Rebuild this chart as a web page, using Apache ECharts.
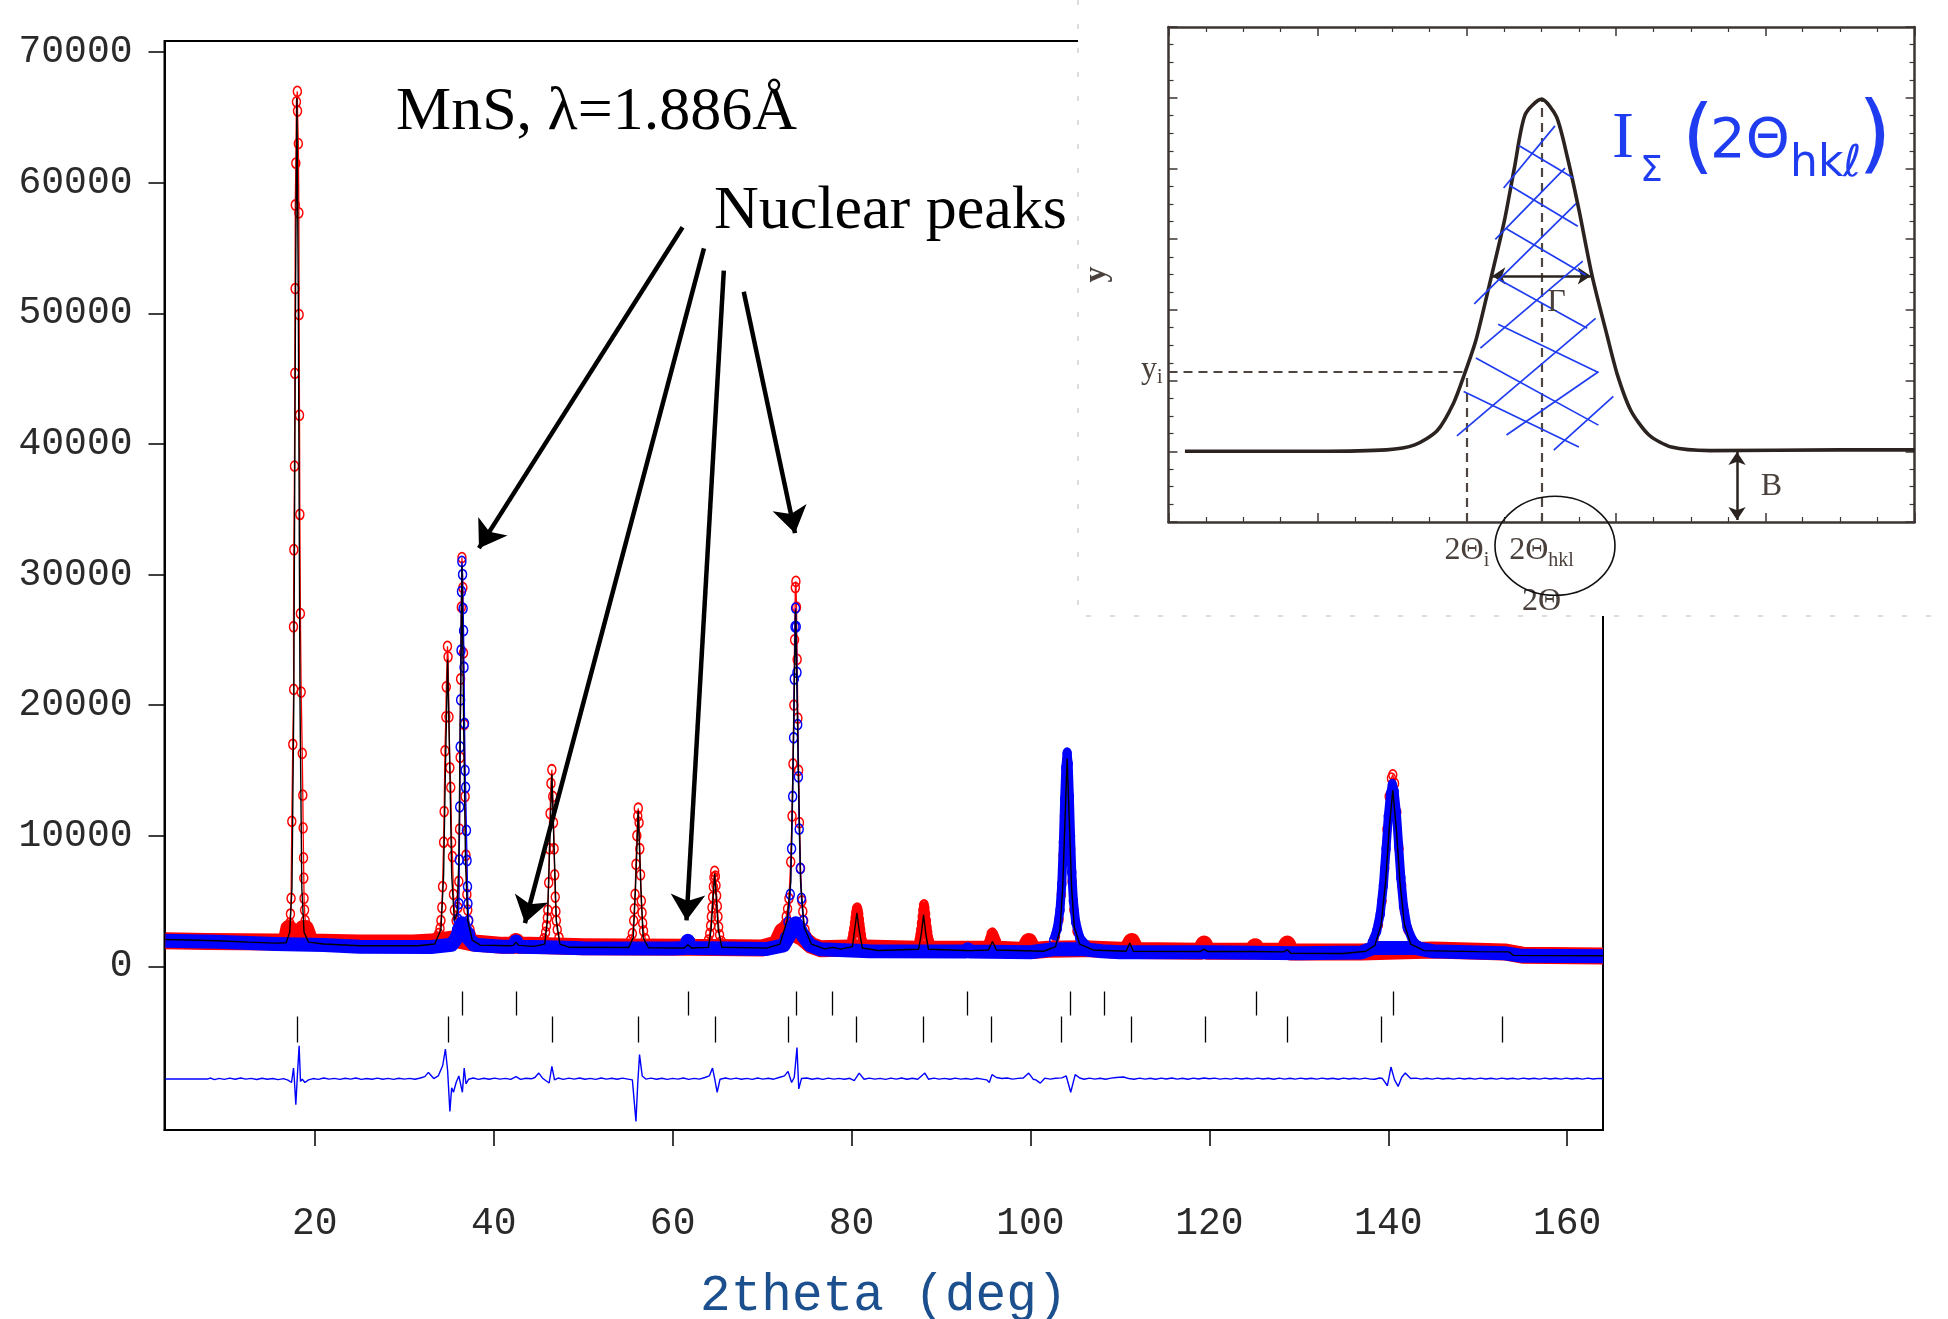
<!DOCTYPE html>
<html><head><meta charset="utf-8">
<script src="https://cdn.jsdelivr.net/npm/echarts/dist/echarts.min.js"></script>
<style>html,body{margin:0;padding:0;background:#fff}#c{width:1948px;height:1319px}</style>
</head><body><div id="c"></div>
<script>
// ---------------- data ----------------
const xTickValues = [20, 40, 60, 80, 100, 120, 140, 160];
const yTickValues = [0, 10000, 20000, 30000, 40000, 50000, 60000, 70000];

// calculated profile (black line)
const calcCurve = [[3.3,2050],[6,2010],[9,1950],[12.6,1850],[15.6,1775],[16.8,1800],[17.2,2600],[17.45,6000],[17.65,20000],[17.85,52000],[18.0,66500],[18.15,52000],[18.35,20000],[18.55,6000],[18.8,2600],[19.3,1850],[21,1700],[25,1570],[31.5,1570],[33.4,1700],[34.1,2800],[34.4,7000],[34.6,15000],[34.85,23500],[35.1,15000],[35.3,7000],[35.6,3500],[35.9,4000],[36.1,8000],[36.25,18000],[36.45,30700],[36.65,18000],[36.85,8000],[37.1,3500],[37.6,2000],[38.5,1620],[41.7,1570],[42.2,1600],[42.5,1850],[42.8,1600],[44.5,1520],[45.7,1700],[46.0,3500],[46.25,9000],[46.5,14700],[46.75,9000],[47.0,3500],[47.4,1700],[48.5,1450],[55.1,1440],[55.6,2200],[55.85,6000],[56.15,11900],[56.45,6000],[56.7,2200],[57.3,1420],[61.3,1400],[61.7,1650],[62.1,1400],[64.0,1450],[64.3,2800],[64.5,5000],[64.7,7100],[64.9,5000],[65.1,2800],[65.5,1450],[70.5,1390],[72.0,1700],[72.8,3500],[73.2,6500],[73.45,15000],[73.75,27300],[74.05,15000],[74.3,6500],[74.7,3000],[75.5,1700],[77.0,1330],[77.9,1450],[78.8,1315],[80.1,1500],[80.35,2800],[80.6,4100],[80.85,2800],[81.2,1400],[83,1210],[87.5,1300],[87.8,2500],[88.05,3940],[88.3,2500],[88.6,1300],[92.8,1210],[93.0,1300],[93.2,1200],[95.3,1250],[95.75,1900],[96.2,1250],[101.5,1150],[102.8,1500],[103.3,2800],[103.6,6000],[103.85,11000],[104.1,15900],[104.35,11000],[104.6,6000],[104.9,3000],[105.5,1700],[107,1250],[110.7,1150],[111.1,1780],[111.5,1150],[119.0,1135],[119.4,1315],[119.8,1135],[125,1135],[128.3,1100],[128.7,1263],[129.1,1000],[135,980],[137.5,1150],[138.5,1600],[139.2,3200],[139.7,6500],[140.1,10500],[140.5,13500],[140.9,10500],[141.3,6500],[141.8,3200],[142.5,1700],[144,1200],[150,1120],[153.5,1100],[154,830],[164,800]];

// observed data, set 1 (red): background band and peak points
const redBand = [[3.3,1950],[8,1900],[15.6,1850],[16.8,1900],[17.1,2900],[17.3,2900],[17.5,2300],[18.5,2300],[18.7,2900],[18.95,2900],[19.5,1850],[25,1780],[31,1780],[33,1850],[35.5,2100],[37.5,1800],[41,1600],[42.2,1600],[42.5,1900],[42.8,1600],[44,1600],[50,1500],[55,1480],[61.4,1450],[61.7,1750],[62.0,1450],[70,1400],[71.6,1700],[72.3,2700],[72.8,2900],[73.3,2600],[74.5,2200],[75.5,1600],[76.5,1350],[79.8,1400],[81.5,1400],[87.4,1300],[88.9,1300],[93,1300],[95.2,1300],[96.4,1300],[99.3,1200],[99.8,1900],[100.3,1200],[102,1300],[106,1350],[110.8,1200],[111.3,1900],[111.8,1200],[119,1150],[119.4,1700],[119.8,1150],[124.8,1150],[125.1,1500],[125.4,1150],[128.3,1150],[128.7,1700],[129.1,1100],[137,1100],[145,1250],[153,1100],[155,850],[164,780]];

const redPeaks = [
 [[16.9,2300],[17.1,2700],[17.2,3300],[17.28,4000],[17.35,5200],[17.43,11100],[17.54,17000],[17.64,21200],[17.62,26000],[17.66,31900],[17.73,38300],[17.77,45400],[17.8,51900],[17.82,58300],[17.88,61500],[17.95,66200],[18.05,67000],[18.07,65500],[18.16,63000],[18.22,57700],[18.25,49900],[18.29,42200],[18.33,34600],[18.39,27000],[18.48,21000],[18.6,16300],[18.66,13100],[18.7,10600],[18.74,8300],[18.77,6750],[18.8,5200],[18.86,4300],[18.93,3500],[19.0,2800],[19.2,2300]],
 [[33.6,2200],[33.85,2500],[34.0,2900],[34.1,3500],[34.2,4500],[34.28,6100],[34.4,9500],[34.46,11850],[34.55,16500],[34.65,19100],[34.7,21400],[34.83,24500],[34.9,23700],[35.0,19100],[35.1,15200],[35.2,13700],[35.3,9500],[35.39,8400],[35.5,5500],[35.6,4300],[35.8,3500],[36.0,4500],[36.1,6500],[36.18,10500],[36.25,16000],[36.3,22000],[36.38,27500],[36.45,31300],[36.55,29000],[36.62,24000],[36.7,18500],[36.8,13000],[36.9,8500],[37.0,5500],[37.1,4300],[37.2,3500],[37.35,2800],[37.5,2400]],
 [[45.6,2100],[45.8,2600],[45.9,3100],[46.0,3700],[46.05,4300],[46.15,6400],[46.22,9000],[46.3,11700],[46.4,14000],[46.5,15050],[46.6,13000],[46.68,11000],[46.75,9000],[46.82,7000],[46.88,5300],[46.95,4200],[47.0,3500],[47.1,2800],[47.3,2200]],
 [[55.3,2000],[55.5,2500],[55.65,3500],[55.72,4400],[55.8,5500],[55.9,7800],[56.0,10000],[56.1,11500],[56.16,12100],[56.25,11000],[56.33,9000],[56.42,7000],[56.5,5000],[56.58,4100],[56.65,3300],[56.75,2700],[56.95,2100]],
 [[64.0,2000],[64.15,2500],[64.25,3100],[64.33,3800],[64.4,4500],[64.47,5300],[64.55,6100],[64.62,6800],[64.7,7260],[64.78,6900],[64.85,6200],[64.92,5400],[65.0,4600],[65.07,3800],[65.15,3000],[65.25,2400],[65.45,1900]],
 [[72.3,2600],[72.55,3200],[72.7,3800],[72.85,4400],[73.0,5200],[73.2,8000],[73.35,11500],[73.45,15500],[73.55,20000],[73.63,25000],[73.72,29000],[73.78,29470],[73.85,27500],[73.92,23500],[74.0,19000],[74.08,15000],[74.18,11000],[74.3,7500],[74.45,5000],[74.55,4200],[74.65,3500],[74.8,2800],[75.0,2300]],
 [[79.9,1700],[80.05,2100],[80.15,2500],[80.25,2900],[80.33,3300],[80.4,3700],[80.47,4100],[80.55,4400],[80.65,4450],[80.72,4300],[80.8,4000],[80.87,3600],[80.94,3200],[81.02,2800],[81.1,2400],[81.2,2000],[81.4,1600]],
 [[87.4,1600],[87.55,2000],[87.65,2400],[87.74,2800],[87.82,3300],[87.9,3800],[87.97,4300],[88.05,4650],[88.12,4700],[88.2,4450],[88.28,4000],[88.36,3500],[88.44,3000],[88.52,2600],[88.6,2200],[88.72,1900],[88.9,1500]],
 [[95.1,1500],[95.3,1800],[95.45,2100],[95.6,2450],[95.75,2540],[95.9,2400],[96.05,2150],[96.2,1900],[96.5,1450]],
 [[102.8,2300],[103.2,3600],[103.45,5500],[103.65,8500],[103.8,11500],[103.95,14500],[104.08,15800],[104.22,14800],[104.35,12000],[104.5,9000],[104.65,6500],[104.85,4300],[105.2,2700],[105.7,1800]],
 [[138.4,2100],[138.9,3200],[139.3,5000],[139.6,7500],[139.85,10500],[140.1,13000],[140.35,14400],[140.5,14660],[140.7,14000],[140.95,11800],[141.2,9000],[141.5,6200],[141.8,4200],[142.2,2800],[142.8,1800]]
];

// observed data, set 2 (blue)
const blueBand = [[3.3,1950],[9,1870],[15.6,1700],[21,1620],[25,1490],[33,1480],[35.3,1650],[35.9,2200],[36.2,2900],[36.45,3300],[36.75,2900],[37.1,2200],[37.8,1650],[41,1500],[42.2,1500],[42.5,1900],[42.8,1500],[46,1450],[50,1380],[60,1360],[61.4,1400],[61.7,1950],[62.0,1400],[70.5,1320],[72.4,1600],[73.0,2300],[73.5,3000],[73.75,3300],[74.1,3000],[74.6,2300],[75.4,1600],[76.5,1300],[82,1150],[92.8,1130],[93,1300],[93.2,1130],[100,1070],[102.5,1300],[106,1300],[108,1150],[110,1080],[120,1070],[130,1000],[137,1050],[138.3,1400],[143,1400],[145,1150],[153,1000],[155,800],[164,760]];

const bluePeaks = [
 [[35.6,2200],[35.85,2800],[36.0,3600],[36.12,4800],[36.15,8150],[36.2,12200],[36.25,16800],[36.3,20400],[36.35,24200],[36.4,28700],[36.44,31000],[36.52,30000],[36.58,27400],[36.63,25700],[36.68,22900],[36.74,18600],[36.8,15000],[36.86,13700],[36.95,10400],[37.02,8100],[37.07,6100],[37.12,4800],[37.2,3500],[37.4,2500],[37.8,1900]],
 [[72.5,2200],[72.9,3400],[73.15,5500],[73.3,9000],[73.42,13000],[73.52,17500],[73.6,22000],[73.68,26000],[73.74,27430],[73.82,26000],[73.9,22500],[73.98,18500],[74.06,14500],[74.15,10500],[74.27,7500],[74.4,5200],[74.6,3500],[74.95,2300],[75.4,1700]],
 [[102.6,2000],[103.0,2900],[103.3,4300],[103.5,6300],[103.68,9500],[103.82,12800],[103.95,15200],[104.1,16320],[104.22,15500],[104.35,13000],[104.48,10000],[104.62,7200],[104.8,5000],[105.05,3400],[105.5,2200],[106.2,1600]],
 [[138.2,1800],[138.7,2700],[139.1,4000],[139.45,6200],[139.75,9000],[140.0,11500],[140.25,13200],[140.45,13900],[140.65,13400],[140.9,11800],[141.15,9300],[141.4,6800],[141.7,4600],[142.1,3000],[142.7,2000],[143.4,1500]]
];
// which peaks look solid (densely overlapping points) in the picture
const redSolidPeaks = [6, 7, 8];
const blueSolidPeaks = [2, 3];

// difference curve
const diffCurve = [[3.3,-8637],[8.0,-8637],[8.3,-8560],[8.8,-8680],[9.3,-8590],[9.9,-8660],[10.5,-8570],[11.1,-8650],[11.7,-8560],[12.3,-8640],[12.9,-8590],[13.5,-8670],[14.1,-8580],[14.7,-8650],[15.3,-8600],[15.9,-8680],[16.5,-8610],[17,-8720],[17.4,-8900],[17.62,-7795],[17.7,-8500],[17.88,-10605],[18.05,-8400],[18.25,-6087],[18.4,-8816],[18.6,-8650],[18.9,-8900],[19.3,-8700],[19.8,-8600],[20.4,-8660],[21,-8560],[21.6,-8640],[22.2,-8590],[22.8,-8660],[23.4,-8580],[24,-8640],[24.6,-8560],[25.2,-8660],[25.8,-8600],[26.4,-8650],[27,-8570],[27.6,-8650],[28.2,-8590],[28.8,-8660],[29.4,-8580],[30,-8640],[30.6,-8590],[31.2,-8650],[31.8,-8560],[32.3,-8450],[32.7,-8130],[33.3,-8600],[33.8,-8400],[34.3,-7600],[34.6,-6340],[34.85,-8000],[35.1,-11117],[35.3,-9300],[35.5,-9650],[35.8,-8900],[36.1,-8400],[36.5,-9650],[36.7,-7795],[36.9,-9000],[37.2,-8650],[37.7,-8560],[38.3,-8660],[38.9,-8580],[39.5,-8650],[40.1,-8570],[40.7,-8640],[41.3,-8590],[41.9,-8660],[42.5,-8450],[43,-8660],[43.6,-8580],[44.2,-8620],[44.6,-8520],[45.04,-8180],[45.5,-8600],[46.2,-8940],[46.5,-7670],[46.8,-8700],[47.2,-8560],[47.8,-8660],[48.4,-8570],[49,-8640],[49.6,-8560],[50.2,-8650],[50.8,-8590],[51.4,-8660],[52,-8560],[52.6,-8640],[53.2,-8580],[53.8,-8650],[54.4,-8570],[55,-8640],[55.5,-8700],[55.9,-11880],[56.1,-9000],[56.3,-6770],[56.6,-8400],[57,-8640],[57.6,-8570],[58.2,-8650],[58.8,-8580],[59.4,-8660],[60,-8590],[60.6,-8640],[61.2,-8560],[61.8,-8660],[62.4,-8590],[63,-8640],[63.6,-8520],[64.1,-8400],[64.46,-7795],[64.7,-8600],[64.98,-9650],[65.3,-8650],[65.9,-8560],[66.5,-8640],[67.1,-8570],[67.7,-8650],[68.3,-8590],[68.9,-8660],[69.5,-8560],[70.1,-8640],[70.7,-8580],[71.3,-8650],[71.9,-8520],[72.5,-8400],[72.9,-8050],[73.3,-8900],[73.6,-8500],[73.9,-6220],[74.1,-9390],[74.4,-8600],[75,-8560],[75.6,-8650],[76.2,-8580],[76.8,-8660],[77.4,-8570],[78,-8640],[78.6,-8590],[79.2,-8650],[79.8,-8580],[80.3,-8750],[80.85,-8180],[81.4,-8650],[82,-8570],[82.6,-8640],[83.2,-8590],[83.8,-8660],[84.4,-8570],[85,-8640],[85.6,-8560],[86.2,-8650],[86.8,-8580],[87.4,-8650],[88.2,-8180],[88.6,-8650],[89.2,-8570],[89.8,-8640],[90.4,-8590],[91,-8650],[91.6,-8570],[92.2,-8640],[92.8,-8600],[93.4,-8660],[94,-8580],[94.6,-8640],[95.1,-8700],[95.4,-8900],[95.7,-8300],[96.2,-8520],[96.8,-8600],[97.4,-8560],[98,-8640],[98.6,-8590],[99.2,-8560],[99.8,-8180],[100.3,-8650],[100.6,-8700],[101.1,-8950],[101.6,-8570],[102.2,-8640],[102.8,-8580],[103.5,-8550],[104.0,-8400],[104.5,-9650],[105.0,-8300],[105.5,-8560],[106,-8650],[106.6,-8570],[107.2,-8640],[107.8,-8580],[108.4,-8650],[109,-8570],[109.6,-8520],[110.4,-8480],[111,-8600],[111.6,-8650],[112.2,-8570],[112.8,-8640],[113.4,-8580],[114,-8650],[114.6,-8570],[115.2,-8630],[115.8,-8560],[116.4,-8640],[117,-8580],[117.6,-8650],[118.2,-8570],[118.8,-8630],[119.4,-8560],[120,-8620],[120.6,-8570],[121.2,-8640],[121.8,-8590],[122.4,-8640],[123,-8570],[123.6,-8630],[124.2,-8580],[124.8,-8640],[125.4,-8570],[126,-8630],[126.6,-8580],[127.2,-8650],[127.8,-8570],[128.4,-8640],[129,-8580],[129.6,-8640],[130.2,-8570],[130.8,-8630],[131.4,-8580],[132,-8640],[132.6,-8570],[133.2,-8630],[133.8,-8580],[134.4,-8650],[135,-8570],[135.6,-8630],[136.2,-8580],[136.8,-8640],[137.4,-8570],[138,-8640],[138.5,-8650],[139.0,-8560],[139.35,-8600],[139.9,-9150],[140.3,-7720],[140.7,-8700],[141.1,-9200],[141.5,-8500],[141.9,-8180],[142.5,-8600],[143.1,-8570],[143.7,-8640],[144.3,-8580],[144.9,-8640],[145.5,-8570],[146.1,-8630],[146.7,-8580],[147.3,-8640],[147.9,-8570],[148.5,-8630],[149.1,-8580],[149.7,-8640],[150.3,-8570],[150.9,-8630],[151.5,-8580],[152.1,-8640],[152.7,-8570],[153.3,-8630],[153.9,-8580],[154.5,-8640],[155.1,-8570],[155.7,-8630],[156.3,-8580],[156.9,-8640],[157.5,-8570],[158.1,-8630],[158.7,-8580],[159.3,-8640],[159.9,-8570],[160.5,-8630],[161.1,-8580],[161.7,-8640],[162.3,-8570],[162.9,-8630],[163.5,-8590],[164,-8620]];

// Bragg reflection positions (2theta, deg)
const nuclearHkl = [36.53, 42.57, 61.72, 73.8, 77.86, 92.96, 104.4, 108.25, 125.2, 140.6];
const magneticHkl = [18.01, 34.87, 46.53, 56.21, 64.74, 72.87, 80.57, 88.06, 95.66, 103.46, 111.27, 119.5, 128.66, 139.17, 152.7];

// arrows "Nuclear peaks": [from, to] in (2theta, counts)
const arrowSegments = [
 [[61.11,56600],[38.35,32020]],
 [[63.5,54980],[43.49,3306]],
 [[65.72,53270],[61.55,3510]],
 [[67.95,51650],[73.68,33170]]
];

// inset schematic peak (arbitrary units)
const insetProfile = [[0.11,1.0],[0.6,1.0],[1.0,1.0],[1.46,1.02],[1.65,1.09],[1.8,1.29],[1.91,1.68],[1.985,2.1],[2.06,2.57],[2.15,3.35],[2.25,4.25],[2.32,5.03],[2.39,5.76],[2.5,5.98],[2.6,5.73],[2.675,5.14],[2.75,4.42],[2.84,3.47],[2.94,2.63],[3.01,2.07],[3.1,1.57],[3.22,1.23],[3.37,1.06],[3.63,1.01],[4.5,1.02],[5.0,1.02]];
const insetDashed = [[[2.0,0],[2.0,2.1]],[[0,2.125],[1.99,2.125]],[[2.5,0],[2.5,5.98]]];
const insetArrows = [[[2.17,3.48],[2.83,3.48]],[[3.81,0.03],[3.81,0.99]]];
const hatchSegments = [
 [[2.246,4.724],[2.590,5.602]],[[2.190,3.998],[2.657,5.004]],[[2.049,3.086],[2.731,4.501]],[[2.090,2.460],[2.776,3.690]],[[1.933,1.219],[2.862,2.879]],[[2.265,1.230],[2.881,2.125]],[[2.582,1.018],[2.981,1.778]],
 [[2.347,5.323],[2.713,4.864]],[[2.284,4.763],[2.743,4.182]],[[2.265,4.148],[2.795,3.494]],[[2.209,3.438],[2.806,2.740]],[[2.209,2.796],[2.881,2.113]],[[2.060,2.320],[2.881,1.370]],[[1.978,1.845],[2.750,1.062]]
];

// ---------------- chart ----------------
const chart = echarts.init(document.getElementById('c'));

function joinPeaks(peaks) {
  const out = [];
  peaks.forEach((p, i) => {
    if (i) out.push([p[0][0], '-']);
    p.forEach(q => out.push(q));
  });
  return out;
}
const tickRows = [];
nuclearHkl.forEach(x => tickRows.push({coords: [[x, -1930], [x, -3767]]}));
magneticHkl.forEach(x => tickRows.push({coords: [[x, -3844], [x, -5835]]}));

const monoFont = 'Liberation Mono';
const serif = 'Liberation Serif';
const insetInk = '#3d3533';
const insetText = '#4a403c';

const insetTickCommon = {
  min: 0, interval: 1, gridIndex: 1, z: 60,
  axisLine: {show: true, onZero: false, lineStyle: {color: insetInk, width: 2.5}},
  axisTick: {show: true, inside: true, length: 9, lineStyle: {color: insetInk, width: 1.5}},
  minorTick: {show: true, splitNumber: 4, length: 5, lineStyle: {color: insetInk, width: 1.2}},
  splitLine: {show: false}, minorSplitLine: {show: false}
};
const subRich = (pad) => ({
  m: {fontFamily: serif, fontSize: 32, color: insetText, verticalAlign: 'top', lineHeight: 36},
  s: {fontFamily: serif, fontSize: 20, color: insetText, verticalAlign: 'top', lineHeight: 21, padding: [pad, 0, 0, 0]}
});

const option = {
  animation: false,
  backgroundColor: '#ffffff',
  grid: [
    {left: 164.5, right: 345, top: 41, bottom: 189, show: true, borderColor: '#000', borderWidth: 2, backgroundColor: 'transparent', outerBoundsMode: 'none', containLabel: false},
    {left: 1168.5, right: 33.4, top: 27, bottom: 797, show: false, outerBoundsMode: 'none', containLabel: false}
  ],
  xAxis: [
    {type: 'value', gridIndex: 0, min: 3.2, max: 164.0,
     axisLine: {show: true, onZero: false, lineStyle: {color: '#000', width: 2}},
     axisTick: {show: true, customValues: xTickValues, length: 16, lineStyle: {color: '#000', width: 1.5}},
     axisLabel: {show: true, customValues: xTickValues, formatter: v => String(v), margin: 75,
       fontFamily: monoFont, fontSize: 38, color: '#2a2a2a'},
     splitLine: {show: false},
     name: '2theta (deg)', nameLocation: 'middle', nameGap: 141,
     nameTextStyle: {fontFamily: monoFont, fontSize: 51, color: '#1b4f8e'}},
    Object.assign({type: 'value', max: 5, position: 'bottom',
      axisLabel: {show: true, customValues: [2, 2.5], margin: 13,
        formatter: v => v < 2.25 ? '{m|2Θ}{s|i}' : '{m|2Θ}{s|hkl}', rich: subRich(16)},
      name: '2Θ', nameLocation: 'middle', nameGap: 64,
      nameTextStyle: {fontFamily: serif, fontSize: 32, color: insetText}}, insetTickCommon),
    Object.assign({type: 'value', max: 5, position: 'top', axisLabel: {show: false}}, insetTickCommon)
  ],
  yAxis: [
    {type: 'value', gridIndex: 0, min: -12540, max: 70860,
     axisLine: {show: true, onZero: false, lineStyle: {color: '#000', width: 2}},
     axisTick: {show: true, customValues: yTickValues, length: 16, lineStyle: {color: '#000', width: 1.5}},
     axisLabel: {show: true, customValues: yTickValues, formatter: v => String(v), margin: 32,
       fontFamily: monoFont, fontSize: 38, color: '#2a2a2a'},
     splitLine: {show: false}},
    Object.assign({type: 'value', max: 7, position: 'left',
      axisLabel: {show: true, customValues: [2.125], margin: 6,
        formatter: () => '{m|y}{s|i}', rich: subRich(14)},
      name: 'y', nameLocation: 'middle', nameGap: 56, nameRotate: 90,
      nameTextStyle: {fontFamily: serif, fontSize: 32, fontWeight: 'bold', color: insetText}}, insetTickCommon),
    Object.assign({type: 'value', max: 7, position: 'right', axisLabel: {show: false}}, insetTickCommon)
  ],
  series: [
    {type: 'line', name: 'obs1 band', xAxisIndex: 0, yAxisIndex: 0, data: redBand, showSymbol: false, silent: true, z: 2,
     lineStyle: {color: '#ff0000', width: 17, join: 'round', cap: 'butt'}},
    {type: 'line', name: 'obs1 dense', xAxisIndex: 0, yAxisIndex: 0, data: joinPeaks(redSolidPeaks.map(i => redPeaks[i])), connectNulls: false, showSymbol: false, silent: true, z: 3,
     lineStyle: {color: '#ff0000', width: 8, join: 'round'}},
    {type: 'line', name: 'obs1', xAxisIndex: 0, yAxisIndex: 0, data: joinPeaks(redPeaks), connectNulls: false, silent: true, z: 3,
     symbol: 'circle', symbolSize: [8, 10], showSymbol: true,
     itemStyle: {color: 'transparent', borderColor: '#ff0000', borderWidth: 1.6},
     lineStyle: {color: '#ff0000', width: 1.3}},
    {type: 'line', name: 'obs2 band', xAxisIndex: 0, yAxisIndex: 0, data: blueBand, showSymbol: false, silent: true, z: 4,
     lineStyle: {color: '#0000ff', width: 14, join: 'round', cap: 'butt'}},
    {type: 'line', name: 'obs2 dense', xAxisIndex: 0, yAxisIndex: 0, data: joinPeaks(blueSolidPeaks.map(i => bluePeaks[i])), connectNulls: false, showSymbol: false, silent: true, z: 4,
     lineStyle: {color: '#0000ff', width: 9, join: 'round'}},
    {type: 'line', name: 'obs2', xAxisIndex: 0, yAxisIndex: 0, data: joinPeaks(bluePeaks), connectNulls: false, silent: true, z: 5,
     symbol: 'circle', symbolSize: [8, 10], showSymbol: true,
     itemStyle: {color: 'transparent', borderColor: '#0000ff', borderWidth: 1.6},
     lineStyle: {color: '#0000ff', width: 1.3}},
    {type: 'line', name: 'calc', xAxisIndex: 0, yAxisIndex: 0, data: calcCurve, showSymbol: false, silent: true, z: 6,
     lineStyle: {color: '#000', width: 1.4}},
    {type: 'line', name: 'diff', xAxisIndex: 0, yAxisIndex: 0, data: diffCurve, showSymbol: false, silent: true, z: 6,
     lineStyle: {color: '#0000ff', width: 1.4}},
    {type: 'lines', name: 'hkl', coordinateSystem: 'cartesian2d', xAxisIndex: 0, yAxisIndex: 0, data: tickRows, silent: true, z: 6,
     lineStyle: {color: '#000', width: 1.3, opacity: 1}},
    {type: 'lines', name: 'arrows', coordinateSystem: 'cartesian2d', xAxisIndex: 0, yAxisIndex: 0, silent: true, z: 7,
     data: arrowSegments.map(s => ({coords: s})),
     symbol: ['none', 'arrow'], symbolSize: 26,
     lineStyle: {color: '#000', width: 4.5, opacity: 1}},
    // inset
    {type: 'line', name: 'inset profile', xAxisIndex: 1, yAxisIndex: 1, data: insetProfile, showSymbol: false, silent: true, z: 62,
     smooth: 0.25, lineStyle: {color: '#2b2320', width: 3.6}},
    {type: 'lines', name: 'inset dashed', coordinateSystem: 'cartesian2d', xAxisIndex: 1, yAxisIndex: 1, silent: true, z: 61,
     data: insetDashed.map(s => ({coords: s})),
     lineStyle: {color: '#4e4440', width: 2.2, type: [9, 6], opacity: 1}},
    {type: 'lines', name: 'inset arrows', coordinateSystem: 'cartesian2d', xAxisIndex: 1, yAxisIndex: 1, silent: true, z: 62,
     data: insetArrows.map(s => ({coords: s})),
     symbol: ['arrow', 'arrow'], symbolSize: 13,
     lineStyle: {color: '#2b2320', width: 2.5, opacity: 1}},
    {type: 'lines', name: 'hatch', coordinateSystem: 'cartesian2d', xAxisIndex: 1, yAxisIndex: 1, silent: true, z: 63,
     data: hatchSegments.map(s => ({coords: s})), clip: false,
     lineStyle: {color: '#1f3cf0', width: 1.7, opacity: 1}}
  ],
  graphic: []
};
chart.setOption(option);

// annotations
const P = (x, y) => chart.convertToPixel({gridIndex: 1}, [x, y]);
const ell = P(2.59, -0.336);
const gam = P(2.6, 3.1);
const bLab = P(4.04, 0.5);
const hand = '#1f3cf0';
chart.setOption({graphic: [
  {type: 'text', x: 396, y: 113, z: 10, style: {text: 'MnS, λ=1.886Å', font: '62px "Liberation Serif"', fill: '#000', textAlign: 'left', textVerticalAlign: 'middle'}},
  {type: 'text', x: 714, y: 212, z: 10, style: {text: 'Nuclear peaks', font: '62px "Liberation Serif"', fill: '#000', textAlign: 'left', textVerticalAlign: 'middle'}},
  {type: 'rect', z: 50, shape: {x: 1078, y: 0, width: 870, height: 616}, style: {fill: '#fff', stroke: null}},
  {type: 'polyline', z: 51, shape: {points: [[1078, 0], [1078, 616], [1948, 616]]}, style: {stroke: '#d2d2d2', lineWidth: 1.5, lineDash: [5, 19], fill: null}},
  {type: 'text', x: gam[0], y: gam[1], z: 70, style: {text: 'Γ', font: '32px "Liberation Serif"', fill: insetText, textAlign: 'center', textVerticalAlign: 'middle'}},
  {type: 'text', x: bLab[0], y: bLab[1], z: 70, style: {text: 'B', font: '32px "Liberation Serif"', fill: insetText, textAlign: 'center', textVerticalAlign: 'middle'}},
  {type: 'ellipse', z: 70, shape: {cx: ell[0], cy: ell[1], rx: 60, ry: 49.5}, style: {fill: null, stroke: '#111', lineWidth: 1.6}},
  {type: 'text', x: 1612, y: 140, z: 70, style: {text: 'I', font: '66px "Liberation Serif"', fill: hand, textAlign: 'left', textVerticalAlign: 'middle'}},
  {type: 'text', x: 1640, y: 172, z: 70, style: {text: 'Σ', font: '36px "DejaVu Sans"', fill: hand, textAlign: 'left', textVerticalAlign: 'middle'}},
  {type: 'text', x: 1682, y: 142, z: 70, style: {text: '(', font: '82px "DejaVu Sans"', fill: hand, textAlign: 'left', textVerticalAlign: 'middle'}},
  {type: 'text', x: 1710, y: 142, z: 70, style: {text: '2Θ', font: '56px "DejaVu Sans"', fill: hand, textAlign: 'left', textVerticalAlign: 'middle'}},
  {type: 'text', x: 1790, y: 165, z: 70, style: {text: 'hkℓ', font: '44px "DejaVu Sans"', fill: hand, textAlign: 'left', textVerticalAlign: 'middle'}},
  {type: 'text', x: 1858, y: 140, z: 70, style: {text: ')', font: '86px "DejaVu Sans"', fill: hand, textAlign: 'left', textVerticalAlign: 'middle'}}
]});
</script></body></html>
